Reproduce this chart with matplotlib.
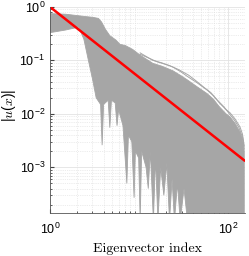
import numpy as np
import matplotlib.pyplot as plt

plt.rcParams['font.family'] = ['Liberation Sans', 'DejaVu Sans']
plt.rcParams['mathtext.fontset'] = 'custom'
plt.rcParams['mathtext.rm'] = 'Liberation Sans'
plt.rcParams['mathtext.it'] = 'cmmi10'

# upper edge of the solid grey bundle of eigenvector curves
upper_idx = [1, 1.5, 2.0, 2.5, 3.0, 3.5, 3.8, 4.2, 4.7, 5.5, 6.1, 7, 8.5, 10.3,
             14.3, 18, 24, 30, 35, 45, 58, 68, 80, 95, 105, 120, 136, 145, 152]
upper_val = [0.75, 0.73, 0.69, 0.66, 0.64, 0.61, 0.52, 0.38, 0.29, 0.24, 0.2,
             0.19, 0.16, 0.125, 0.088, 0.078, 0.064, 0.051, 0.043, 0.032,
             0.024, 0.019, 0.0135, 0.010, 0.0088, 0.0066, 0.0046, 0.0034, 0.002]

# lower edge (dips of the curves)
lower_idx = [1, 1.5, 2.1, 2.4, 2.7, 3.0, 3.3, 3.7, 3.85, 4.0, 4.5, 4.7, 4.9,
             5.4, 5.66, 5.9, 6.6, 7.3, 7.6, 8.3, 8.8, 9.1, 9.9, 10.3, 10.7,
             12, 12.7, 13.4, 14.5, 15.3, 16.3, 17.5, 19, 20.5, 22, 23.5, 25, 27,
             29, 32, 35, 152]
lower_val = [0.33, 0.37, 0.42, 0.25, 0.1, 0.045, 0.02, 0.015, 0.0026, 0.015,
             0.018, 0.0055, 0.018, 0.016, 0.006, 0.012, 0.006, 0.0005, 0.004,
             0.003, 0.00027, 0.002, 0.0015, 1e-4, 0.002, 0.001, 4e-4, 0.002,
             1e-4, 0.0015, 1e-4, 0.001, 3e-4, 0.0012, 1e-4, 6e-4, 1e-4, 5e-4,
             1e-4, 4e-4, 1e-4, 1e-4]

# outermost single curves on top of the bundle
outer_idx = [10.3, 14.3, 18, 24, 30, 35, 45, 58, 68, 80, 95, 105, 120, 136, 145, 152]
outer_val = [0.138, 0.10, 0.09, 0.075, 0.06, 0.05, 0.038, 0.028, 0.022, 0.016,
             0.012, 0.0105, 0.008, 0.0057, 0.0042, 0.0025]
mid_idx = [10.3, 16, 22, 28, 36, 44, 54, 64, 76, 90, 104, 118, 132, 146, 152]
mid_val = [0.13, 0.094, 0.08, 0.067, 0.053, 0.041, 0.031, 0.025, 0.018, 0.0135,
           0.0099, 0.0076, 0.0056, 0.0036, 0.0022]

# reference power law
ref_idx = [1, 152]
ref_val = [1, 0.00135]

grey = '#a6a6a6'
fig = plt.figure(figsize=(2.49, 2.56), dpi=100)
ax = fig.add_axes([0.2008, 0.168, 0.7832, 0.805])

poly_x = upper_idx + lower_idx[::-1]
poly_y = upper_val + lower_val[::-1]
ax.fill(poly_x, poly_y, color=grey, lw=0.6, ec=grey)
ax.plot(outer_idx, outer_val, color=grey, lw=0.7)
ax.plot(mid_idx, mid_val, color=grey, lw=0.7)
ax.plot(ref_idx, ref_val, color='red', lw=1.8)

ax.set_xscale('log')
ax.set_yscale('log')
ax.set_xlim(1, 155)
ax.set_ylim(1.4e-4, 1)
ax.set_xticks([1, 100])

ax.grid(True, which='major', color='#e3e3e3', lw=0.6)
ax.grid(True, which='minor', color='#dadada', lw=0.5, ls=':')
ax.set_axisbelow(True)
ax.tick_params(which='both', direction='in', labelsize=9, color='#444444')
ax.tick_params(which='major', length=3)
ax.tick_params(which='minor', length=1.5)
ax.tick_params(axis='x', which='major', pad=6)
for s in ['top', 'right']:
    ax.spines[s].set_visible(False)
for s in ['left', 'bottom']:
    ax.spines[s].set_color('#555555')
    ax.spines[s].set_linewidth(0.6)

ax.set_xlabel('Eigenvector index', family='cmr10', fontsize=10)
ax.set_ylabel('$|u(x)|$', fontsize=10)
ax.yaxis.set_label_coords(-0.165, 0.52)

fig.savefig('out.png', dpi=100)
